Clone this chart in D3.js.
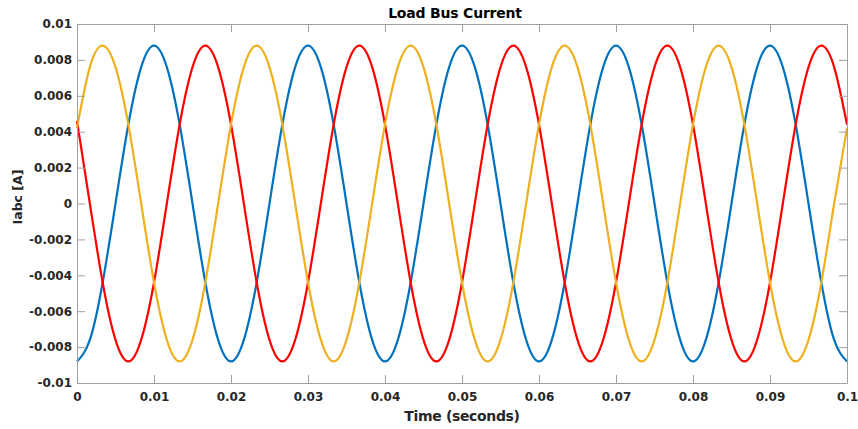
<!DOCTYPE html>
<html lang="en">
<head>
  <meta charset="UTF-8">
  <title>Load Bus Current</title>
  <style>
    body { margin: 0; background: #fff; }
    text { font-family: "DejaVu Sans", sans-serif; font-weight: bold; fill: #262626; }
  </style>
</head>
<body>
<svg id="chart" width="858" height="429"></svg>
<script src="https://d3js.org/d3.v7.min.js"></script>
<script>
  // sample times (s), one sample every 1/12 of a 50 Hz period
  const time = [
    0, 0.001667, 0.003333, 0.005, 0.006667, 0.008333,
    0.01, 0.011667, 0.013333, 0.015, 0.016667, 0.018333,
    0.02, 0.021667, 0.023333, 0.025, 0.026667, 0.028333,
    0.03, 0.031667, 0.033333, 0.035, 0.036667, 0.038333,
    0.04, 0.041667, 0.043333, 0.045, 0.046667, 0.048333,
    0.05, 0.051667, 0.053333, 0.055, 0.056667, 0.058333,
    0.06, 0.061667, 0.063333, 0.065, 0.066667, 0.068333,
    0.07, 0.071667, 0.073333, 0.075, 0.076667, 0.078333,
    0.08, 0.081667, 0.083333, 0.085, 0.086667, 0.088333,
    0.09, 0.091667, 0.093333, 0.095, 0.096667, 0.098333,
    0.1
  ];

  // currents (A)
  const phaseBlue = [
    -0.0088, -0.0076, -0.0044, 0, 0.0044, 0.0076, 0.0088, 0.0076, 0.0044, 0, -0.0044, -0.0076,
    -0.0088, -0.0076, -0.0044, 0, 0.0044, 0.0076, 0.0088, 0.0076, 0.0044, 0, -0.0044, -0.0076,
    -0.0088, -0.0076, -0.0044, 0, 0.0044, 0.0076, 0.0088, 0.0076, 0.0044, 0, -0.0044, -0.0076,
    -0.0088, -0.0076, -0.0044, 0, 0.0044, 0.0076, 0.0088, 0.0076, 0.0044, 0, -0.0044, -0.0076,
    -0.0088, -0.0076, -0.0044, 0, 0.0044, 0.0076, 0.0088, 0.0076, 0.0044, 0, -0.0044, -0.0076,
    -0.0088
  ];
  const phaseRed = [
    0.0046, 0, -0.0044, -0.0076, -0.0088, -0.0076, -0.0044, 0, 0.0044, 0.0076, 0.0088, 0.0076,
    0.0044, 0, -0.0044, -0.0076, -0.0088, -0.0076, -0.0044, 0, 0.0044, 0.0076, 0.0088, 0.0076,
    0.0044, 0, -0.0044, -0.0076, -0.0088, -0.0076, -0.0044, 0, 0.0044, 0.0076, 0.0088, 0.0076,
    0.0044, 0, -0.0044, -0.0076, -0.0088, -0.0076, -0.0044, 0, 0.0044, 0.0076, 0.0088, 0.0076,
    0.0044, 0, -0.0044, -0.0076, -0.0088, -0.0076, -0.0044, 0, 0.0044, 0.0076, 0.0088, 0.0076,
    0.0044
  ];
  const phaseYellow = [
    0.0042, 0.0076, 0.0088, 0.0076, 0.0044, 0, -0.0044, -0.0076, -0.0088, -0.0076, -0.0044, 0,
    0.0044, 0.0076, 0.0088, 0.0076, 0.0044, 0, -0.0044, -0.0076, -0.0088, -0.0076, -0.0044, 0,
    0.0044, 0.0076, 0.0088, 0.0076, 0.0044, 0, -0.0044, -0.0076, -0.0088, -0.0076, -0.0044, 0,
    0.0044, 0.0076, 0.0088, 0.0076, 0.0044, 0, -0.0044, -0.0076, -0.0088, -0.0076, -0.0044, 0,
    0.0044, 0.0076, 0.0088, 0.0076, 0.0044, 0, -0.0044, -0.0076, -0.0088, -0.0076, -0.0044, 0,
    0.0042
  ];

  const xTicks = [0, 0.01, 0.02, 0.03, 0.04, 0.05, 0.06, 0.07, 0.08, 0.09, 0.1];
  const yTicks = [-0.01, -0.008, -0.006, -0.004, -0.002, 0, 0.002, 0.004, 0.006, 0.008, 0.01];

  const series = [
    { values: phaseBlue, color: "#0072bd" },
    { values: phaseRed, color: "#ff0000" },
    { values: phaseYellow, color: "#edb120" }
  ];

  const svg = d3.select("#chart"),
    margin = { top: 24, right: 11, bottom: 46, left: 77 },
    width = +svg.attr("width") - margin.left - margin.right,
    height = +svg.attr("height") - margin.top - margin.bottom;

  const x = d3.scaleLinear().domain([0, 0.1]).range([0, width]);
  const y = d3.scaleLinear().domain([-0.01, 0.01]).range([height, 0]);

  const g = svg.append("g").attr("transform", `translate(${margin.left},${margin.top})`);

  const fmt = d => d === 0 ? "0" : String(+d.toFixed(3));

  // lines first, then box on top
  const line = d3.line()
    .x((d, i) => x(time[i]))
    .y(d => y(d))
    .curve(d3.curveNatural);

  g.selectAll(".phase")
    .data(series)
    .join("path")
    .attr("class", "phase")
    .attr("fill", "none")
    .attr("stroke", d => d.color)
    .attr("stroke-width", 2.2)
    .attr("d", d => line(d.values));

  // axes with inward ticks on all four sides
  const axisStyle = sel => {
    sel.select(".domain").attr("stroke", "#a0a0a0");
    sel.selectAll(".tick line").attr("stroke", "#a0a0a0");
    sel.selectAll(".tick text").style("font-size", "12px").attr("fill", "#262626");
  };

  g.append("g")
    .attr("transform", `translate(0,${height})`)
    .call(d3.axisBottom(x).tickValues(xTicks).tickFormat(fmt).tickSizeInner(-8).tickSizeOuter(0).tickPadding(9))
    .call(axisStyle);
  g.append("g")
    .call(d3.axisTop(x).tickValues(xTicks).tickFormat("").tickSizeInner(-8).tickSizeOuter(0))
    .call(axisStyle);
  g.append("g")
    .call(d3.axisLeft(y).tickValues(yTicks).tickFormat(fmt).tickSizeInner(-8).tickSizeOuter(0).tickPadding(5))
    .call(axisStyle);
  g.append("g")
    .attr("transform", `translate(${width},0)`)
    .call(d3.axisRight(y).tickValues(yTicks).tickFormat("").tickSizeInner(-8).tickSizeOuter(0))
    .call(axisStyle);

  svg.append("text")
    .attr("x", margin.left + width / 2 - 7)
    .attr("y", 18)
    .attr("text-anchor", "middle")
    .style("font-size", "14px")
    .style("letter-spacing", "-0.2px")
    .style("fill", "#000")
    .text("Load Bus Current");

  svg.append("text")
    .attr("x", margin.left + width / 2)
    .attr("y", 421)
    .attr("text-anchor", "middle")
    .style("font-size", "14px")
    .style("letter-spacing", "-0.35px")
    .text("Time (seconds)");

  svg.append("text")
    .attr("transform", `translate(22,197) rotate(-90)`)
    .attr("text-anchor", "middle")
    .style("font-size", "12.5px")
    .text("Iabc [A]");
</script>
</body>
</html>
